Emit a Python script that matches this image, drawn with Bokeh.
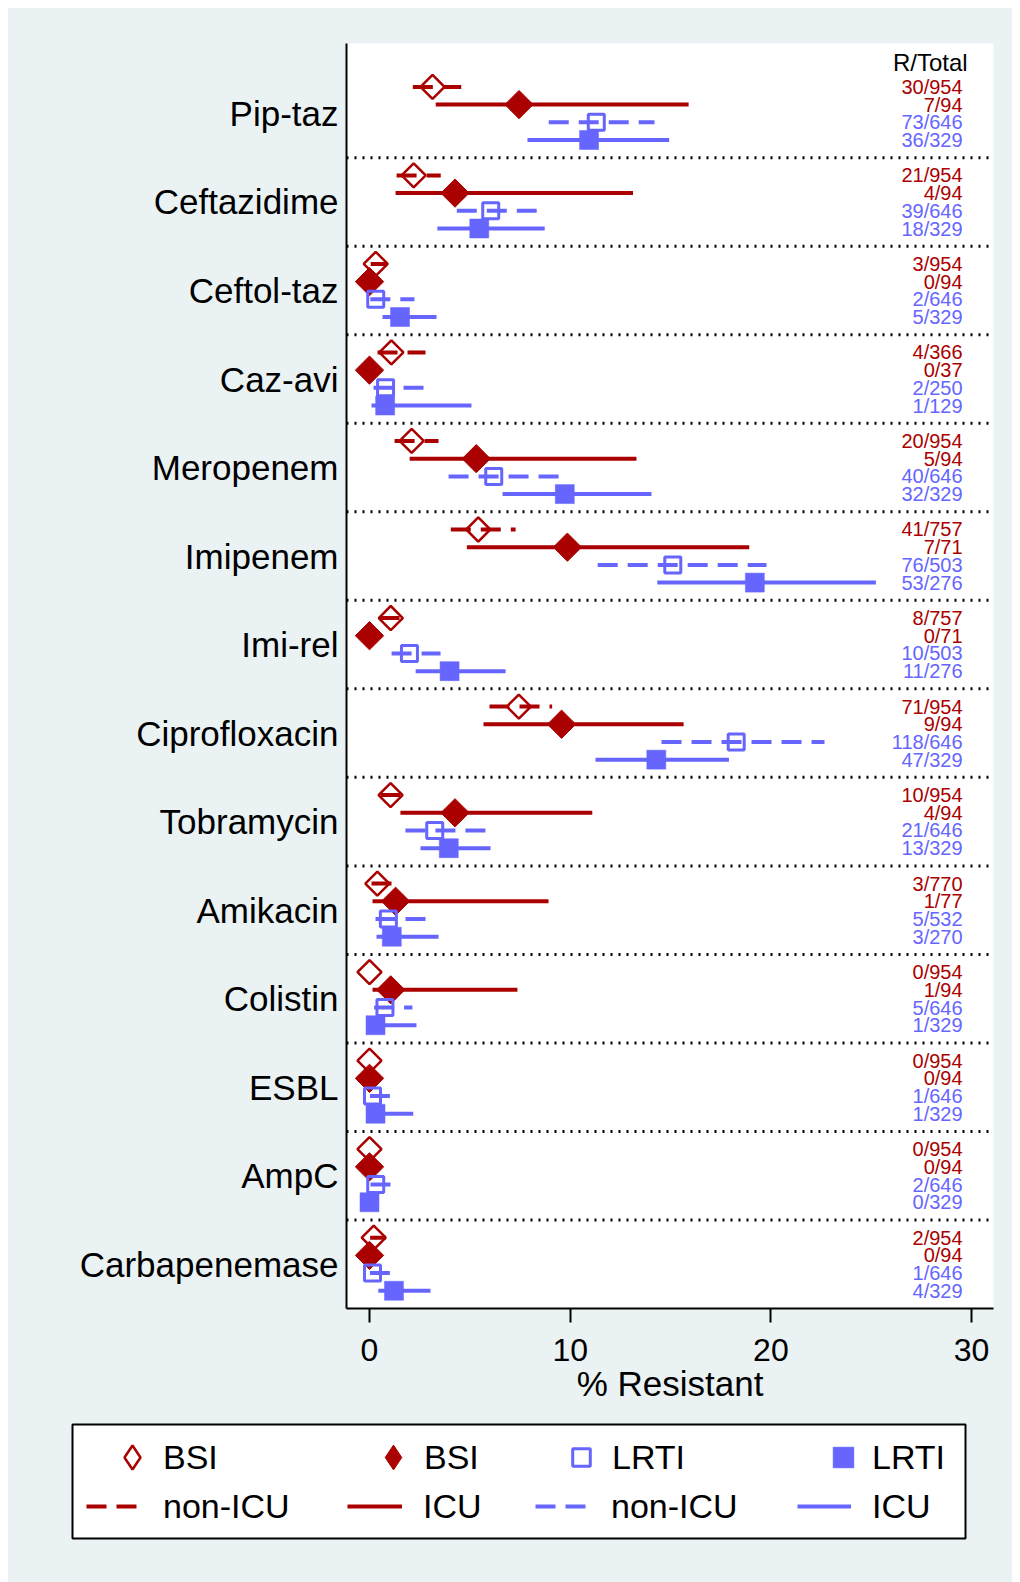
import numpy as np
from bokeh.plotting import figure
from bokeh.layouts import column, row
from bokeh.models import (ColumnDataSource, FixedTicker, Span, Legend, LegendItem, Range1d,
                          Label, Spacer)
from bokeh.core.properties import value
from bokeh.embed import file_html
from bokeh.resources import INLINE

categories = ["Pip-taz", "Ceftazidime", "Ceftol-taz", "Caz-avi", "Meropenem", "Imipenem",
              "Imi-rel", "Ciprofloxacin", "Tobramycin", "Amikacin", "Colistin", "ESBL",
              "AmpC", "Carbapenemase"]
nan = float("nan")

# BSI, non-ICU
bsi_nonicu_est = [3.14, 2.20, 0.31, 1.09, 2.10, 5.42, 1.06, 7.44, 1.05, 0.39, 0.0, 0.0, 0.0, 0.21]
bsi_nonicu_lo = [2.16, 1.35, 0.06, 0.40, 1.25, 4.05, 0.50, 5.98, 0.55, 0.10, nan, nan, nan, 0.03]
bsi_nonicu_hi = [4.57, 3.55, 0.86, 2.79, 3.44, 7.28, 1.60, 9.10, 1.60, 1.13, nan, nan, nan, 0.82]
bsi_nonicu_n = ["30/954", "21/954", "3/954", "4/366", "20/954", "41/757", "8/757", "71/954",
                "10/954", "3/770", "0/954", "0/954", "0/954", "2/954"]
# BSI, ICU
bsi_icu_est = [7.45, 4.26, 0.0, 0.0, 5.32, 9.86, 0.0, 9.57, 4.26, 1.30, 1.06, 0.0, 0.0, 0.0]
bsi_icu_lo = [3.30, 1.30, nan, nan, 2.00, 4.85, nan, 5.68, 1.54, 0.15, 0.15, nan, nan, nan]
bsi_icu_hi = [15.90, 13.13, nan, nan, 13.30, 18.92, nan, 15.65, 11.10, 8.92, 7.37, nan, nan, nan]
bsi_icu_n = ["7/94", "4/94", "0/94", "0/37", "5/94", "7/71", "0/71", "9/94", "4/94", "1/77",
             "1/94", "0/94", "0/94", "0/94"]
# LRTI, non-ICU
lrti_nonicu_est = [11.30, 6.04, 0.31, 0.80, 6.19, 15.11, 1.99, 18.27, 3.25, 0.94, 0.77, 0.15, 0.31, 0.15]
lrti_nonicu_lo = [8.93, 4.35, 0.04, 0.20, 3.94, 11.37, 1.10, 14.55, 1.79, 0.30, 0.23, 0.02, 0.05, 0.02]
lrti_nonicu_hi = [14.20, 8.33, 2.24, 2.79, 9.52, 19.78, 3.54, 22.67, 5.83, 2.84, 2.14, 1.05, 1.10, 1.05]
lrti_nonicu_n = ["73/646", "39/646", "2/646", "2/250", "40/646", "76/503", "10/503", "118/646",
                 "21/646", "5/532", "5/646", "1/646", "2/646", "1/646"]
# LRTI, ICU
lrti_icu_est = [10.94, 5.47, 1.52, 0.78, 9.73, 19.20, 3.99, 14.29, 3.95, 1.11, 0.30, 0.30, 0.0, 1.22]
lrti_icu_lo = [7.87, 3.38, 0.65, 0.10, 6.63, 14.34, 2.30, 11.26, 2.54, 0.35, 0.01, 0.01, nan, 0.44]
lrti_icu_hi = [14.93, 8.73, 3.34, 5.08, 14.05, 25.23, 6.78, 17.91, 6.03, 3.44, 2.34, 2.18, nan, 3.04]
lrti_icu_n = ["36/329", "18/329", "5/329", "1/129", "32/329", "53/276", "11/276", "47/329",
              "13/329", "3/270", "1/329", "1/329", "0/329", "4/329"]

x_ticks = [0, 10, 20, 30]

RED = "#AA0000"
BLUE = "#6666FF"
BG = "#EAF2F3"
FONT = "Liberation Sans"

n = len(categories)
g = np.arange(n)

p = figure(width=1004, height=1414, output_backend="svg", toolbar_location=None,
           x_range=Range1d(-1.146, 31.09), y_range=Range1d(-140, 2.9),
           min_border_left=338, min_border_right=19, min_border_top=35, min_border_bottom=114)
p.background_fill_color = "white"
p.border_fill_color = BG
p.outline_line_color = None
p.xgrid.visible = False
p.ygrid.visible = False

series = [
    (bsi_nonicu_est, bsi_nonicu_lo, bsi_nonicu_hi, bsi_nonicu_n, 1, RED, "20 10",
     dict(marker="square", angle=np.pi / 4, size=17, fill_color=None, line_color=RED, line_width=2.5)),
    (bsi_icu_est, bsi_icu_lo, bsi_icu_hi, bsi_icu_n, 2, RED, "solid",
     dict(marker="square", angle=np.pi / 4, size=20, fill_color=RED, line_color=RED, line_width=1)),
    (lrti_nonicu_est, lrti_nonicu_lo, lrti_nonicu_hi, lrti_nonicu_n, 3, BLUE, "20 10",
     dict(marker="square", size=16, fill_color=None, line_color=BLUE, line_width=3)),
    (lrti_icu_est, lrti_icu_lo, lrti_icu_hi, lrti_icu_n, 4, BLUE, "solid",
     dict(marker="square", size=19, fill_color=BLUE, line_color=BLUE, line_width=0.5)),
]
# legend keys: the legend draws markers unrotated, so the diamonds use the diamond marker there
legend_markers = [
    dict(marker="diamond", fill_color=None, line_color=RED, line_width=2.5),
    dict(marker="diamond", fill_color=RED, line_color=RED, line_width=1),
    dict(marker="square", fill_color=None, line_color=BLUE, line_width=3),
    dict(marker="square", fill_color=BLUE, line_color=BLUE, line_width=0.5),
]

sources = []
for est, lo, hi, lbl, r, col, dash, mk in series:
    src = ColumnDataSource(dict(
        est=np.array(est, dtype=float), lo=np.array(lo, dtype=float), hi=np.array(hi, dtype=float),
        y=-(10 * g + 2 * r).astype(float), n=lbl, tx=np.full(n, 29.55)))
    sources.append(src)

for (est, lo, hi, lbl, r, col, dash, mk), src in zip(series, sources):
    p.segment(x0="lo", y0="y", x1="hi", y1="y", source=src, line_color=col,
              line_width=4, line_dash=dash, line_cap="butt")
for (est, lo, hi, lbl, r, col, dash, mk), src in zip(series, sources):
    p.scatter(x="est", y="y", source=src, **mk)
for (est, lo, hi, lbl, r, col, dash, mk), src in zip(series, sources):
    p.text(x="tx", y="y", text="n", source=src, text_align="right",
           text_baseline="middle", text_font=value(FONT), text_font_size="20px",
           text_color=col)

p.add_layout(Label(x=29.8, y=0.8, text="R/Total", text_align="right", text_baseline="middle",
                   text_font=FONT, text_font_size="24px", text_color="black"))

for k in range(1, n):
    p.add_layout(Span(location=-10 * k, dimension="width", line_color="black",
                      line_width=3, line_dash="2 6"))

# axes
centers = [-(10 * i + 5) for i in range(n)]
p.yaxis.ticker = FixedTicker(ticks=centers)
p.yaxis.major_label_overrides = {c: name for c, name in zip(centers, categories)}
p.yaxis.major_tick_line_color = None
p.yaxis.minor_tick_line_color = None
p.yaxis.major_tick_out = 0
p.yaxis.major_tick_in = 0
p.yaxis.minor_tick_out = 0
p.yaxis.major_label_standoff = 8
p.yaxis.axis_line_width = 2
p.yaxis.axis_line_color = "black"
p.yaxis.major_label_text_font = FONT
p.yaxis.major_label_text_font_size = "35px"
p.yaxis.major_label_text_color = "black"

p.xaxis.ticker = FixedTicker(ticks=x_ticks)
p.xaxis.minor_tick_line_color = None
p.xaxis.major_tick_out = 14
p.xaxis.major_tick_in = 0
p.xaxis.minor_tick_out = 0
p.xaxis.major_tick_line_width = 2
p.xaxis.major_tick_line_color = "black"
p.xaxis.axis_line_width = 2
p.xaxis.axis_line_color = "black"
p.xaxis.major_label_standoff = 16
p.xaxis.major_label_text_font = FONT
p.xaxis.major_label_text_font_size = "32px"
p.xaxis.major_label_text_color = "black"
p.xaxis.axis_label = "% Resistant"
p.xaxis.axis_label_standoff = 0
p.xaxis.axis_label_text_font = FONT
p.xaxis.axis_label_text_font_size = "35px"
p.xaxis.axis_label_text_font_style = "normal"
p.xaxis.axis_label_text_color = "black"

# legend panel: its frame is the legend box; glyph renderers share the data but lie off-range
pl = figure(width=1004, height=160, output_backend="svg", toolbar_location=None,
            x_range=Range1d(100, 101), y_range=Range1d(100, 101),
            min_border_left=64, min_border_right=47, min_border_top=2, min_border_bottom=44,
            x_axis_location=None, y_axis_location=None)
pl.background_fill_color = "white"
pl.border_fill_color = BG
pl.outline_line_color = "black"
pl.outline_line_width = 2
pl.xgrid.visible = False
pl.ygrid.visible = False

lseg, lmk = [], []
for (est, lo, hi, lbl, r, col, dash, mk), src, lm in zip(series, sources, legend_markers):
    lseg.append(pl.segment(x0="lo", y0="y", x1="hi", y1="y", source=src, line_color=col,
                           line_width=4, line_dash=dash, line_cap="butt"))
    lmk.append(pl.scatter(x="est", y="y", source=src, **lm))


def add_leg(renderer, label, vx, vy, gw, gh, ls):
    leg = Legend(items=[LegendItem(label=label, renderers=[renderer])], location=(vx, vy),
                 glyph_width=gw, glyph_height=gh, label_standoff=ls, label_height=gh,
                 padding=0, margin=0, spacing=0, border_line_color=None,
                 background_fill_alpha=0.0, label_text_font=FONT,
                 label_text_font_size="34px", label_text_color="black")
    pl.add_layout(leg, "center")


add_leg(lmk[0], "BSI", 30, 51, 60, 60, 1)
add_leg(lmk[1], "BSI", 290, 50, 62, 62, 0)
add_leg(lmk[2], "LRTI", 487, 59, 44, 44, 9)
add_leg(lmk[3], "LRTI", 745, 55, 52, 52, 3)
add_leg(lseg[0], "non-ICU", 14, 12, 52, 40, 25)
add_leg(lseg[1], "ICU", 275, 12, 55, 40, 21)
add_leg(lseg[2], "non-ICU", 463, 12, 52, 40, 24)
add_leg(lseg[3], "ICU", 725, 12, 54, 40, 21)

page = column(Spacer(height=8, styles={"background-color": "white"}),
              row(Spacer(width=8, styles={"background-color": "white"}), p),
              row(Spacer(width=8, styles={"background-color": "white"}), pl),
              styles={"background-color": BG})

open("out.html", "w").write(file_html(page, INLINE))
